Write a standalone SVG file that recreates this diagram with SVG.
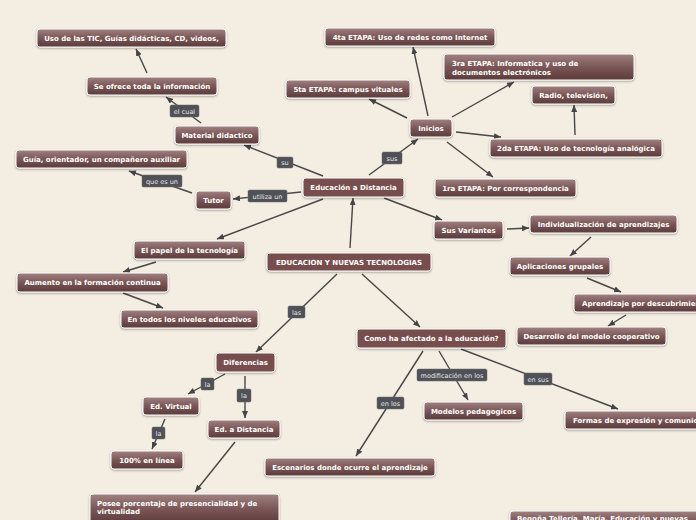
<svg xmlns="http://www.w3.org/2000/svg" width="696" height="520" viewBox="0 0 696 520">
<defs>
<linearGradient id="g" x1="0" y1="0" x2="0" y2="1">
<stop offset="0" stop-color="#a08181"/>
<stop offset="0.5" stop-color="#7b5656"/>
<stop offset="1" stop-color="#5c3b3b"/>
</linearGradient>
<filter id="sh" x="-10%" y="-30%" width="120%" height="170%">
<feDropShadow dx="0" dy="1" stdDeviation="0.8" flood-color="#000" flood-opacity="0.35"/>
</filter>
<marker id="ar" markerWidth="7" markerHeight="6" refX="7" refY="3" orient="auto" markerUnits="userSpaceOnUse">
<path d="M0,0 L7,3 L0,6 z" fill="#444"/>
</marker>
</defs>
<style>
.n rect{fill:url(#g);stroke:#fff;stroke-width:1;filter:url(#sh)}
.f rect{fill:#774d4d}
.n text{font-family:"DejaVu Sans",Verdana,sans-serif;font-weight:bold;font-size:7px;fill:#fff;text-anchor:middle}
.n text.l{text-anchor:start}
.c line{stroke:#474747;stroke-width:1.4;marker-end:url(#ar)}
.lb rect{fill:#4f5157;stroke:#6a6c72;stroke-width:0.5}
.lb text{font-family:"DejaVu Sans",Verdana,sans-serif;font-size:6.5px;fill:#e6e6e6;text-anchor:middle}
</style>
<rect width="696" height="520" fill="#f3ede2"/>
<g id="connectors" class="c">
<line x1="147" y1="73" x2="136" y2="49"/>
<line x1="201" y1="123" x2="166" y2="97"/>
<line x1="323" y1="176" x2="244" y2="145"/>
<line x1="301" y1="192" x2="233" y2="199"/>
<line x1="192" y1="193" x2="129" y2="171"/>
<line x1="323" y1="199" x2="217" y2="239"/>
<line x1="156" y1="262" x2="123" y2="272"/>
<line x1="123" y1="293" x2="163" y2="308"/>
<line x1="350" y1="248" x2="353" y2="198"/>
<line x1="369" y1="175" x2="418" y2="139"/>
<line x1="428" y1="116" x2="413" y2="47"/>
<line x1="407" y1="118" x2="369" y2="99"/>
<line x1="452" y1="117" x2="514" y2="82"/>
<line x1="456" y1="132" x2="501" y2="137"/>
<line x1="575" y1="135" x2="574" y2="105"/>
<line x1="447" y1="142" x2="493" y2="177"/>
<line x1="384" y1="198" x2="442" y2="220"/>
<line x1="507" y1="229" x2="529" y2="228"/>
<line x1="591" y1="237" x2="570" y2="256"/>
<line x1="587" y1="278" x2="621" y2="292"/>
<line x1="626" y1="315" x2="608" y2="326"/>
<line x1="362" y1="274" x2="420" y2="327"/>
<line x1="337" y1="274" x2="256" y2="352"/>
<line x1="225" y1="374" x2="188" y2="394"/>
<line x1="245" y1="376" x2="245" y2="418"/>
<line x1="165" y1="419" x2="152" y2="449"/>
<line x1="235" y1="442" x2="195" y2="492"/>
<line x1="423" y1="351" x2="356" y2="456"/>
<line x1="439" y1="351" x2="468" y2="400"/>
<line x1="461" y1="349" x2="618" y2="409"/>
</g>
<g id="labels">
<g class="lb"><rect x="170" y="105" width="29" height="12" rx="1.5"/><text x="184.5" y="113.5">el cual</text></g>
<g class="lb"><rect x="277" y="157" width="16" height="11" rx="1.5"/><text x="285" y="165">su</text></g>
<g class="lb"><rect x="142" y="175" width="40" height="12" rx="1.5"/><text x="162" y="183.5">que es un</text></g>
<g class="lb"><rect x="248" y="190" width="39" height="12" rx="1.5"/><text x="267.5" y="198.5">utiliza un</text></g>
<g class="lb"><rect x="382" y="152" width="20" height="12" rx="1.5"/><text x="392" y="160.5">sus</text></g>
<g class="lb"><rect x="288" y="306" width="17" height="12" rx="1.5"/><text x="296.5" y="314.5">las</text></g>
<g class="lb"><rect x="201" y="378" width="13" height="12" rx="1.5"/><text x="207.5" y="386.5">la</text></g>
<g class="lb"><rect x="237" y="389" width="14" height="13" rx="1.5"/><text x="244" y="398">la</text></g>
<g class="lb"><rect x="152" y="427" width="13" height="12" rx="1.5"/><text x="158.5" y="435.5">la</text></g>
<g class="lb"><rect x="377" y="397" width="27" height="12" rx="1.5"/><text x="390.5" y="405.5">en los</text></g>
<g class="lb"><rect x="417" y="369" width="70" height="12" rx="1.5"/><text x="452" y="377.5">modificación en los</text></g>
<g class="lb"><rect x="524" y="373" width="28" height="12" rx="1.5"/><text x="538" y="381.5">en sus</text></g>
</g>
<g id="n1" class="n"><rect x="37" y="29" width="189" height="18" rx="3"/><text x="131.5" y="40.5">Uso de las TIC, Guías didácticas, CD, videos,</text></g>
<g id="n2" class="n"><rect x="87" y="77" width="130" height="18" rx="3"/><text x="152" y="88.5">Se ofrece toda la información</text></g>
<g id="n3" class="n"><rect x="175" y="126" width="84" height="18" rx="3"/><text x="217" y="137.5">Material didactico</text></g>
<g id="n4" class="n"><rect x="325" y="28" width="170" height="18" rx="3"/><text x="410" y="39.5">4ta ETAPA: Uso de redes como Internet</text></g>
<g id="n5" class="n"><rect x="444" y="54" width="190" height="26" rx="3"/><text class="l" x="452" y="66">3ra ETAPA: Informatica y uso de</text><text class="l" x="452" y="75">documentos electrónicos</text></g>
<g id="n6" class="n"><rect x="286" y="80" width="124" height="18" rx="3"/><text x="348" y="91.5">5ta ETAPA: campus vituales</text></g>
<g id="n7" class="n"><rect x="532" y="86" width="83" height="18" rx="3"/><text x="573.5" y="97.5">Radio, televisión,</text></g>
<g id="n8" class="n"><rect x="410" y="119" width="42" height="18" rx="3"/><text x="431" y="130.5">Inicios</text></g>
<g id="n9" class="n"><rect x="490" y="139" width="172" height="18" rx="3"/><text x="576" y="150.5">2da ETAPA: Uso de tecnología analógica</text></g>
<g id="n10" class="n"><rect x="16" y="150" width="171" height="18" rx="3"/><text x="101.5" y="161.5">Guía, orientador, un compañero auxiliar</text></g>
<g id="n11" class="n"><rect x="196" y="191" width="35" height="18" rx="3"/><text x="213.5" y="202.5">Tutor</text></g>
<g id="n12" class="n f"><rect x="303" y="178" width="101" height="19" rx="3"/><text x="353.5" y="190">Educación a Distancia</text></g>
<g id="n13" class="n"><rect x="435" y="179" width="141" height="18" rx="3"/><text x="505.5" y="190.5">1ra ETAPA: Por correspondencia</text></g>
<g id="n14" class="n"><rect x="434" y="221" width="69" height="18" rx="3"/><text x="468.5" y="232.5">Sus Variantes</text></g>
<g id="n15" class="n"><rect x="530" y="215" width="147" height="18" rx="3"/><text x="603.5" y="226.5">Individualización de aprendizajes</text></g>
<g id="n16" class="n"><rect x="134" y="241" width="111" height="18" rx="3"/><text x="189.5" y="252.5">El papel de la tecnología</text></g>
<g id="n17" class="n f"><rect x="267" y="253" width="164" height="18" rx="3"/><text x="349" y="264.5">EDUCACION Y NUEVAS TECNOLOGIAS</text></g>
<g id="n18" class="n"><rect x="17" y="273" width="151" height="19" rx="3"/><text x="92.5" y="285">Aumento en la formación continua</text></g>
<g id="n19" class="n"><rect x="121" y="310" width="137" height="18" rx="3"/><text x="189.5" y="321.5">En todos los niveles educativos</text></g>
<g id="n20" class="n f"><rect x="216" y="353" width="59" height="19" rx="3"/><text x="245.5" y="365">Diferencias</text></g>
<g id="n21" class="n"><rect x="510" y="257" width="100" height="18" rx="3"/><text x="560" y="268.5">Aplicaciones grupales</text></g>
<g id="n22" class="n"><rect x="574" y="294" width="150" height="18" rx="3"/><text class="l" x="582" y="305.5">Aprendizaje por descubrimiento</text></g>
<g id="n23" class="n"><rect x="517" y="327" width="149" height="18" rx="3"/><text x="591.5" y="338.5">Desarrollo del modelo cooperativo</text></g>
<g id="n24" class="n f"><rect x="357" y="329" width="149" height="19" rx="3"/><text x="431.5" y="341">Como ha afectado a la educación?</text></g>
<g id="n25" class="n"><rect x="143" y="397" width="56" height="18" rx="3"/><text x="171" y="408.5">Ed. Virtual</text></g>
<g id="n26" class="n"><rect x="208" y="420" width="72" height="18" rx="3"/><text x="244" y="431.5">Ed. a Distancia</text></g>
<g id="n27" class="n"><rect x="111" y="451" width="72" height="18" rx="3"/><text x="147" y="462.5">100% en línea</text></g>
<g id="n28" class="n"><rect x="90" y="494" width="189" height="30" rx="3"/><text class="l" x="97" y="506">Posee porcentaje de presencialidad y de</text><text class="l" x="97" y="514">virtualidad</text></g>
<g id="n29" class="n"><rect x="265" y="458" width="170" height="18" rx="3"/><text x="350" y="469.5">Escenarios donde ocurre el aprendizaje</text></g>
<g id="n30" class="n"><rect x="424" y="402" width="99" height="18" rx="3"/><text x="473.5" y="413.5">Modelos pedagogicos</text></g>
<g id="n31" class="n"><rect x="565" y="411" width="170" height="18" rx="3"/><text class="l" x="573" y="422.5">Formas de expresión y comunicación</text></g>
<g id="n32" class="n"><rect x="510" y="511" width="200" height="20" rx="3"/><text class="l" x="517" y="520.5">Begoña Tellería, María. Educación y nuevas</text></g>
</svg>
